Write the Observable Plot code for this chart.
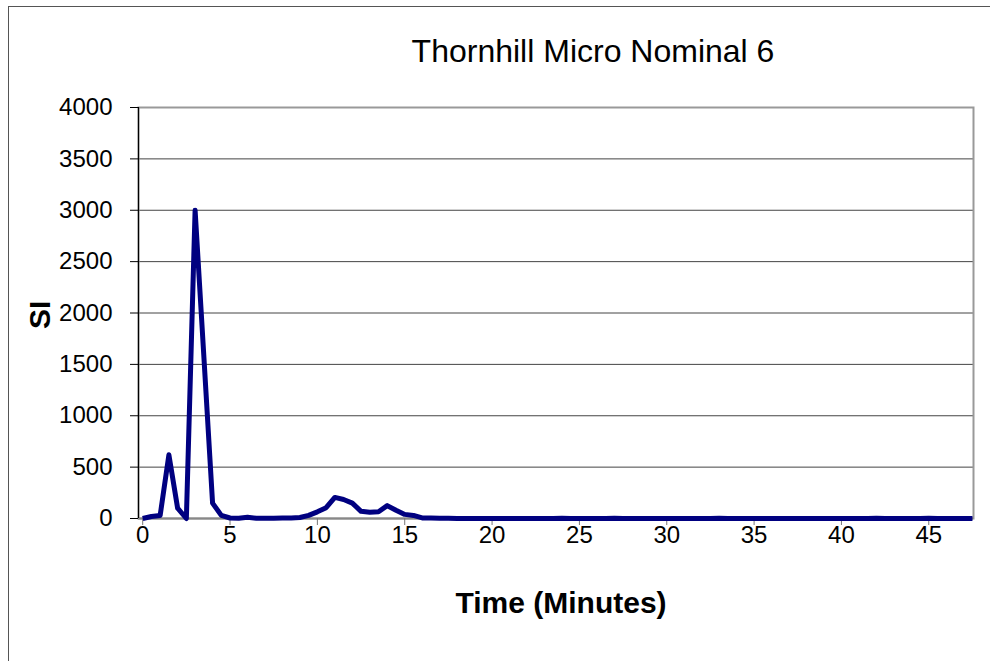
<!DOCTYPE html>
<html>
<head>
<meta charset="utf-8">
<script src="https://cdn.jsdelivr.net/npm/d3@7"></script>
<script src="https://cdn.jsdelivr.net/npm/@observablehq/plot@0.6"></script>
<style>
html, body { margin: 0; padding: 0; background: #fff; }
#wrap { position: relative; width: 990px; height: 661px; overflow: hidden; font-family: "Liberation Sans", Arial, sans-serif; }
#outer { position: absolute; left: 8px; top: 6px; width: 1000px; height: 700px; border-left: 1px solid #555; border-top: 1px solid #555; }
#title { position: absolute; left: 343px; width: 500px; top: 33px; line-height: 36px; text-align: center; font-size: 32px; color: #000; white-space: nowrap; }
#chart { position: absolute; left: 0; top: 0; }
</style>
</head>
<body>
<div id="wrap">
  <div id="outer"></div>
  <div id="chart"></div>
  <div id="title">Thornhill Micro Nominal 6</div>
</div>
<script>
// Time in minutes
const time = [
  0, 0.5, 1, 1.5, 2, 2.5, 3, 3.5, 4, 4.5,
  5, 5.5, 6, 6.5, 7, 7.5, 8, 8.5, 9, 9.5,
  10, 10.5, 11, 11.5, 12, 12.5, 13, 13.5, 14, 14.5,
  15, 15.5, 16, 16.5, 17, 17.5, 18, 18.5, 19, 19.5,
  20, 20.5, 21, 21.5, 22, 22.5, 23, 23.5, 24, 24.5,
  25, 25.5, 26, 26.5, 27, 27.5, 28, 28.5, 29, 29.5,
  30, 30.5, 31, 31.5, 32, 32.5, 33, 33.5, 34, 34.5,
  35, 35.5, 36, 36.5, 37, 37.5, 38, 38.5, 39, 39.5,
  40, 40.5, 41, 41.5, 42, 42.5, 43, 43.5, 44, 44.5,
  45, 45.5, 46, 46.5, 47, 47.5
];
// SI values
const si = [
  0, 20, 30, 620, 100, 0, 3000, 1580, 150, 30,
  5, 3, 12, 3, 2, 3, 5, 5, 10, 30,
  65, 105, 205, 185, 150, 70, 60, 65, 125, 80,
  40, 30, 6, 4, 3, 2, 1, 1, 0, 1,
  0, 1, 0, 1, 0, 0, 1, 0, 2, 1,
  0, 1, 0, 0, 2, 1, 0, 0, 1, 0,
  0, 1, 0, 0, 1, 0, 2, 1, 0, 0,
  1, 0, 0, 1, 1, 0, 0, 1, 0, 0,
  0, 1, 1, 0, 3, 1, 0, 0, 1, 0,
  2, 1, 0, 0, 0, 0
];
const xTicks = [0, 5, 10, 15, 20, 25, 30, 35, 40, 45];
const yTicks = [0, 500, 1000, 1500, 2000, 2500, 3000, 3500, 4000];
const xDomain = [-0.24, 47.56];
const yDomain = [0, 4000];
const seriesColor = "#000080";
const xLabel = "Time (Minutes)";
const yLabel = "SI";

const data = time.map((t, i) => ({ t, v: si[i] }));

const chart = Plot.plot({
  width: 990,
  height: 661,
  marginLeft: 138,
  marginRight: 17,
  marginTop: 107,
  marginBottom: 143,
  style: { fontFamily: "'Liberation Sans', Arial, sans-serif", fontSize: "24px", background: "transparent", color: "#000" },
  x: { domain: xDomain },
  y: { domain: yDomain },
  marks: [
    Plot.gridY(yTicks, { stroke: "#444", strokeOpacity: 1, strokeWidth: 1 }),
    Plot.frame({ stroke: "#999", strokeWidth: 2 }),
    Plot.ruleY([0], { stroke: "#888", strokeWidth: 2 }),
    Plot.ruleX([xDomain[0]], { stroke: "#000", strokeWidth: 1.2 }),
    Plot.axisY({ ticks: yTicks, tickFormat: d3.format("d"), tickSize: 8, tickPadding: 18, label: null, fontSize: 24, stroke: "#000" }),
    Plot.axisX({ ticks: xTicks, tickFormat: d3.format("d"), tickSize: 7, tickPadding: 0, label: null, fontSize: 24, stroke: "#777" }),
    Plot.line(data, { x: "t", y: "v", stroke: seriesColor, strokeWidth: 5, strokeLinejoin: "round", strokeLinecap: "butt" }),
    Plot.text([yLabel], { frameAnchor: "left", dx: -98, dy: 16, rotate: -90, fontSize: 30, fontWeight: "bold", fill: "#000" }),
    Plot.text([xLabel], { frameAnchor: "bottom", dx: 5, dy: 94, fontSize: 30, fontWeight: "bold", fill: "#000" })
  ]
});
document.getElementById("chart").appendChild(chart);
</script>
</body>
</html>
